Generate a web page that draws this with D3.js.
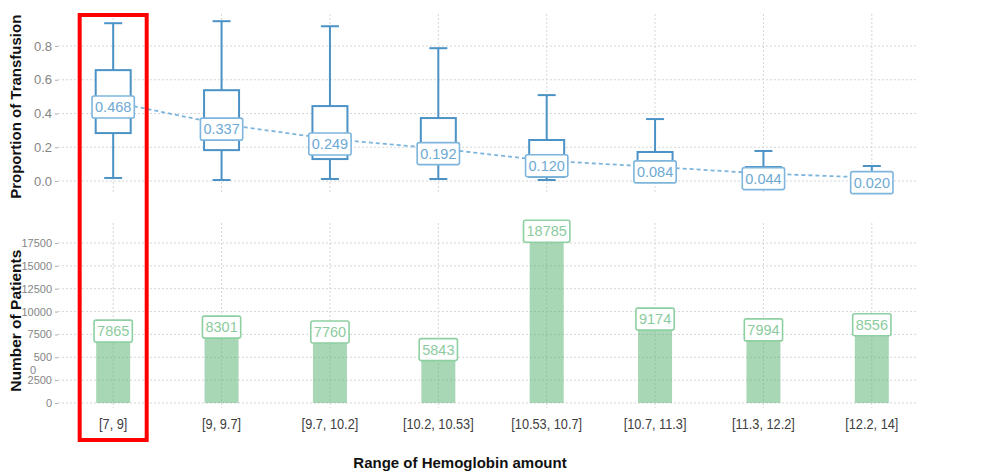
<!DOCTYPE html>
<html>
<head>
<meta charset="utf-8">
<script src="https://cdnjs.cloudflare.com/ajax/libs/d3/7.8.5/d3.min.js"></script>
<style>
	body { margin: 0; background: #fff; }
	text { font-family: "Liberation Sans", Arial, sans-serif; }
	.tickTop, .tickBot { fill: #858585; }
	.catLabel { fill: #404040; }
	.axisTitle { font-weight: bold; fill: #111; }
</style>
</head>
<body>
<script>
// hemoglobin ranges
var categories = ["[7, 9]", "[9, 9.7]", "[9.7, 10.2]", "[10.2, 10.53]", "[10.53, 10.7]", "[10.7, 11.3]", "[11.3, 12.2]", "[12.2, 14]"];

// proportion of transfusion (box plot stats + mean label)
var means       = [0.468, 0.337, 0.249, 0.192, 0.120, 0.084, 0.044, 0.020];
var whiskerHigh = [0.935, 0.947, 0.917, 0.787, 0.509, 0.367, 0.178, 0.089];
var q3          = [0.657, 0.538, 0.444, 0.373, 0.243, 0.172, 0.083, 0.040];
var medians     = [0.440, 0.310, 0.220, 0.170, 0.100, 0.070, 0.030, 0.010];
var q1          = [0.284, 0.183, 0.130, 0.107, 0.025, 0.010, 0.000, 0.000];
var whiskerLow  = [0.018, 0.006, 0.012, 0.012, 0.006, 0.000, 0.000, 0.000];

// number of patients
var patients = [7865, 8301, 7760, 5843, 18785, 9174, 7994, 8556];

var topTicks = [0, 0.2, 0.4, 0.6, 0.8];
var botTicks = [0, 2500, 5000, 7500, 10000, 12500, 15000, 17500];

var w = 999, h = 475;

var svg = d3.select("body")
	.append("svg")
	.attr("width", w)
	.attr("height", h);

var x = d3.scalePoint()
	.domain(categories)
	.range([59, 926])
	.padding(0.5);

var yTop = d3.scaleLinear()
	.domain([0, 0.8])
	.range([181, 46]);

var yBot = d3.scaleLinear()
	.domain([0, 17500])
	.range([403, 243]);

var gridLeft = 58, gridRight = 917;
var gridColor = "#d6d6d6";

var rows = categories.map(function(c, i){
	return {
		cat: c,
		mean: means[i],
		hi: whiskerHigh[i],
		q3: q3[i],
		med: medians[i],
		q1: q1[i],
		lo: whiskerLow[i],
		n: patients[i]
	};
});

// ---------- grid ----------
svg.selectAll(".hGridTop")
	.data(topTicks)
	.enter()
	.append("line")
	.attr("class", "hGridTop")
	.attr("x1", gridLeft).attr("x2", gridRight)
	.attr("y1", function(d){ return yTop(d); })
	.attr("y2", function(d){ return yTop(d); })
	.style("stroke", gridColor)
	.style("stroke-dasharray", "2,2");

svg.selectAll(".vGridTop")
	.data(categories)
	.enter()
	.append("line")
	.attr("class", "vGridTop")
	.attr("x1", function(d){ return x(d); })
	.attr("x2", function(d){ return x(d); })
	.attr("y1", 14).attr("y2", 193)
	.style("stroke", gridColor)
	.style("stroke-dasharray", "2,2");

svg.selectAll(".hGridBot")
	.data(botTicks)
	.enter()
	.append("line")
	.attr("class", "hGridBot")
	.attr("x1", gridLeft).attr("x2", gridRight)
	.attr("y1", function(d){ return yBot(d); })
	.attr("y2", function(d){ return yBot(d); })
	.style("stroke", gridColor)
	.style("stroke-dasharray", "2,2");

svg.selectAll(".vGridBot")
	.data(categories)
	.enter()
	.append("line")
	.attr("class", "vGridBot")
	.attr("x1", function(d){ return x(d); })
	.attr("x2", function(d){ return x(d); })
	.attr("y1", 223).attr("y2", 408)
	.style("stroke", gridColor)
	.style("stroke-dasharray", "2,2");

// ---------- y axes ----------
var axisTop = d3.axisLeft(yTop)
	.tickValues(topTicks)
	.tickFormat(d3.format(".1f"))
	.tickSize(3)
	.tickPadding(3);

var gTop = svg.append("g")
	.attr("transform", "translate(" + gridLeft + ",0)")
	.call(axisTop);
gTop.select(".domain").remove();
gTop.selectAll("line").style("stroke", "#aaa");
gTop.selectAll("text")
	.attr("class", "tickTop")
	.style("font-size", "13px");

var axisBot = d3.axisLeft(yBot)
	.tickValues(botTicks)
	.tickFormat(d3.format("d"))
	.tickSize(3)
	.tickPadding(3);

var gBot = svg.append("g")
	.attr("transform", "translate(" + gridLeft + ",0)")
	.call(axisBot);
gBot.select(".domain").remove();
gBot.selectAll("line").style("stroke", "#aaa");
gBot.selectAll("text")
	.attr("class", "tickBot")
	.style("font-size", "11px");

// the 5000 label wraps in the original ("500" / "0")
gBot.selectAll("text")
	.filter(function(d){ return d === 5000; })
	.text("500")
	.append("tspan")
	.attr("x", -22)
	.attr("dy", "1.15em")
	.text("0");

// ---------- boxplots ----------
var boxColor = "#4b92c6", boxW = 35, capW = 18;

var boxes = svg.selectAll(".box")
	.data(rows)
	.enter()
	.append("g")
	.attr("class", "box");

boxes.append("line")
	.attr("x1", function(d){ return x(d.cat); })
	.attr("x2", function(d){ return x(d.cat); })
	.attr("y1", function(d){ return yTop(d.hi); })
	.attr("y2", function(d){ return yTop(d.lo); })
	.style("stroke", boxColor)
	.style("stroke-width", 2);

boxes.append("line")
	.attr("x1", function(d){ return x(d.cat) - capW / 2; })
	.attr("x2", function(d){ return x(d.cat) + capW / 2; })
	.attr("y1", function(d){ return yTop(d.hi); })
	.attr("y2", function(d){ return yTop(d.hi); })
	.style("stroke", boxColor)
	.style("stroke-width", 2);

boxes.append("line")
	.attr("x1", function(d){ return x(d.cat) - capW / 2; })
	.attr("x2", function(d){ return x(d.cat) + capW / 2; })
	.attr("y1", function(d){ return yTop(d.lo); })
	.attr("y2", function(d){ return yTop(d.lo); })
	.style("stroke", boxColor)
	.style("stroke-width", 2);

boxes.append("rect")
	.attr("x", function(d){ return x(d.cat) - boxW / 2; })
	.attr("y", function(d){ return yTop(d.q3); })
	.attr("width", boxW)
	.attr("height", function(d){ return yTop(d.q1) - yTop(d.q3); })
	.style("fill", "#fff")
	.style("stroke", boxColor)
	.style("stroke-width", 2);

boxes.append("line")
	.attr("x1", function(d){ return x(d.cat) - boxW / 2; })
	.attr("x2", function(d){ return x(d.cat) + boxW / 2; })
	.attr("y1", function(d){ return yTop(d.med); })
	.attr("y2", function(d){ return yTop(d.med); })
	.style("stroke", boxColor)
	.style("stroke-width", 2);

// dashed mean line
var meanLine = d3.line()
	.x(function(d){ return x(d.cat); })
	.y(function(d){ return yTop(d.mean); });

svg.append("path")
	.datum(rows)
	.attr("d", meanLine)
	.style("fill", "none")
	.style("stroke", "#7db5dc")
	.style("stroke-width", 1.8)
	.style("stroke-dasharray", "4,3");

// ---------- bars ----------
var barW = 34;

svg.selectAll(".bar")
	.data(rows)
	.enter()
	.append("rect")
	.attr("class", "bar")
	.attr("x", function(d){ return x(d.cat) - barW / 2; })
	.attr("y", function(d){ return yBot(d.n); })
	.attr("width", barW)
	.attr("height", function(d){ return yBot(0) - yBot(d.n); })
	.style("fill", "#52b06c")
	.style("fill-opacity", 0.5);

// ---------- value labels ----------
function addLabels(cls, data, ypos, txt, textColor, lineColor, dy){
	var g = svg.selectAll("." + cls)
		.data(data)
		.enter()
		.append("g")
		.attr("class", cls)
		.attr("transform", function(d){
			return "translate(" + x(d.cat) + "," + (ypos(d) + dy) + ")";
		});
	g.append("rect")
		.style("fill", "#fff")
		.style("stroke", lineColor)
		.style("stroke-width", 1.6)
		.attr("rx", 2);
	g.append("text")
		.attr("text-anchor", "middle")
		.attr("dy", "0.36em")
		.style("font-size", "14.5px")
		.style("fill", textColor)
		.text(txt);
	g.each(function(){
		var node = d3.select(this);
		var tw = node.select("text").node().getComputedTextLength();
		node.select("rect")
			.attr("x", -tw / 2 - 3)
			.attr("y", -11)
			.attr("width", tw + 6)
			.attr("height", 22);
	});
}

addLabels("meanLabel", rows,
	function(d){ return yTop(d.mean); },
	function(d){ return d3.format(".3f")(d.mean); },
	"#6ea9d4", "#7db5dc", 5);

addLabels("nLabel", rows,
	function(d){ return yBot(d.n); },
	function(d){ return d.n; },
	"#8ccb9e", "#8fd0a2", 0);

// ---------- category labels (tall, narrow font in the original) ----------
svg.selectAll(".catLabel")
	.data(categories)
	.enter()
	.append("text")
	.attr("class", "catLabel")
	.attr("transform", function(d){
		return "translate(" + x(d) + ",429) scale(0.88,1)";
	})
	.attr("text-anchor", "middle")
	.style("font-size", "14.5px")
	.text(function(d){ return d; });

// ---------- titles ----------
svg.append("text")
	.attr("class", "axisTitle")
	.attr("transform", "translate(21," + yTop(0.44) + ") rotate(-90)")
	.attr("text-anchor", "middle")
	.style("font-size", "15px")
	.text("Proportion of Transfusion");

svg.append("text")
	.attr("class", "axisTitle")
	.attr("transform", "translate(21," + yBot(9000) + ") rotate(-90)")
	.attr("text-anchor", "middle")
	.style("font-size", "15.5px")
	.text("Number of Patients");

svg.append("text")
	.attr("class", "axisTitle")
	.attr("x", 460)
	.attr("y", 468)
	.attr("text-anchor", "middle")
	.style("font-size", "15px")
	.text("Range of Hemoglobin amount");

// ---------- red highlight around first range ----------
svg.append("rect")
	.attr("x", x(categories[0]) - 33.5)
	.attr("y", 15)
	.attr("width", 67)
	.attr("height", 425)
	.style("fill", "none")
	.style("stroke", "#ff0000")
	.style("stroke-width", 4);
</script>
</body>
</html>
